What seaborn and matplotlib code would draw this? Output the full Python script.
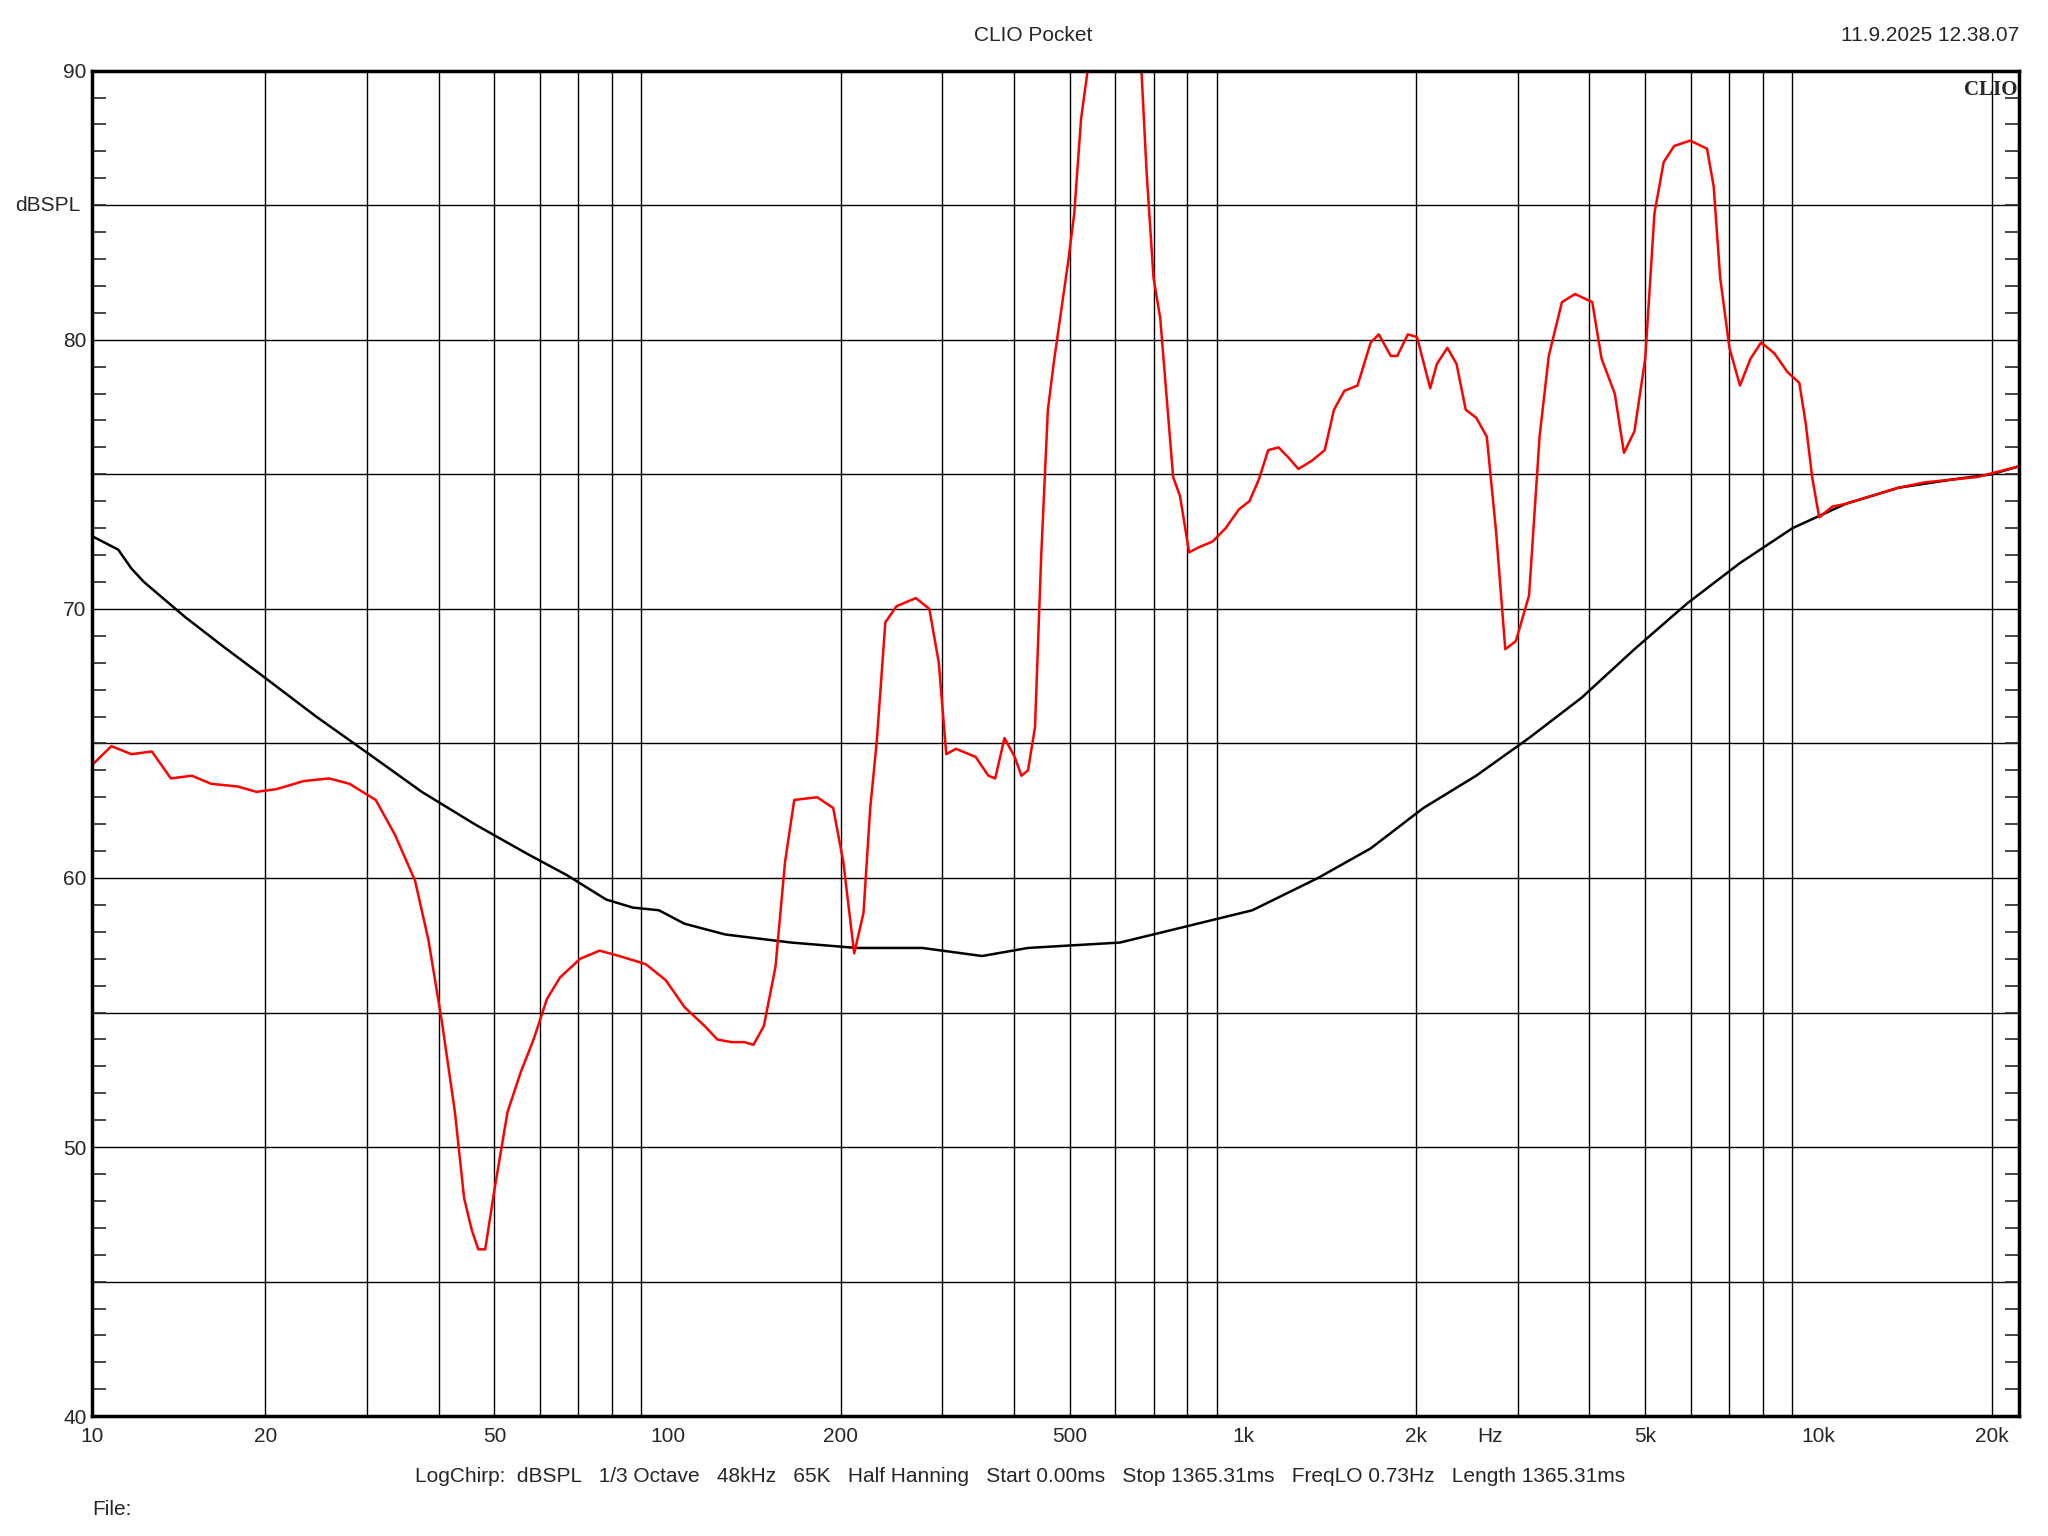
import numpy as np
import pandas as pd
import matplotlib
matplotlib.use("Agg")
import matplotlib.pyplot as plt
from matplotlib.ticker import FixedLocator, NullFormatter, MultipleLocator
import seaborn as sns

# red trace (measured response)
red_freq = [10, 10.8, 11.7, 12.7, 13.7, 14.9, 16.1, 17.9, 19.3, 20.9, 23.3, 25.8, 28.0, 31.1, 33.6,
            36.4, 38.4, 40.5, 42.7, 44.3, 45.7, 46.9, 48.2, 50.0, 52.7, 55.6, 58.5, 61.7, 65.0,
            70.5, 76.2, 82.4, 91.6, 99.3, 107, 116, 122, 129, 136, 141, 147, 154, 160, 166, 182,
            194, 202, 211, 219, 225, 231, 239, 250, 270, 285, 296, 305, 317, 343, 361, 371, 385,
            401, 412, 423, 435, 446, 458, 470, 496, 509, 523, 537, 596, 666, 680, 699, 718, 756,
            777, 806, 840, 885, 933, 984, 1026, 1065, 1106, 1153, 1202, 1248, 1316, 1387, 1439,
            1500, 1581, 1667, 1722, 1806, 1854, 1934, 2006, 2115, 2172, 2265, 2350, 2438, 2543,
            2652, 2752, 2856, 2979, 3141, 3276, 3399, 3583, 3776, 4045, 4198, 4426, 4592, 4789,
            5000, 5188, 5383, 5613, 5984, 6402, 6575, 6749, 7003, 7305, 7621, 7950, 8380, 8834,
            9262, 9502, 9750, 10030, 10570, 11140, 12390, 13770, 15290, 16990, 18880, 22340]
red_db = [64.2, 64.9, 64.6, 64.7, 63.7, 63.8, 63.5, 63.4, 63.2, 63.3, 63.6, 63.7, 63.5, 62.9, 61.6,
          59.9, 57.7, 54.7, 51.3, 48.1, 46.9, 46.2, 46.2, 48.4, 51.3, 52.8, 54.0, 55.5, 56.3,
          57.0, 57.3, 57.1, 56.8, 56.2, 55.2, 54.5, 54.0, 53.9, 53.9, 53.8, 54.5, 56.7, 60.6, 62.9, 63.0,
          62.6, 60.6, 57.2, 58.7, 62.6, 65.1, 69.5, 70.1, 70.4, 70.0, 68.0, 64.6, 64.8, 64.5, 63.8, 63.7, 65.2,
          64.5, 63.8, 64.0, 65.6, 72.0, 77.4, 79.3, 82.8, 84.7, 88.2, 90.0, 95.0, 90.0, 86.2, 82.3, 80.8, 74.9,
          74.2, 72.1, 72.3, 72.5, 73.0, 73.7, 74.0, 74.8, 75.9, 76.0, 75.6, 75.2, 75.5, 75.9, 77.4,
          78.1, 78.3, 79.9, 80.2, 79.4, 79.4, 80.2, 80.1, 78.2, 79.1, 79.7, 79.1, 77.4, 77.1,
          76.4, 72.9, 68.5, 68.8, 70.5, 76.4, 79.4, 81.4, 81.7, 81.4, 79.3, 78.0, 75.8, 76.6,
          79.3, 84.7, 86.6, 87.2, 87.4, 87.1, 85.7, 82.3, 79.7, 78.3, 79.3, 79.9, 79.5, 78.8,
          78.4, 76.9, 74.9, 73.4, 73.8, 73.9, 74.2, 74.5, 74.7, 74.8, 74.9, 75.3]

# black trace (reference)
black_freq = [10, 11.1, 11.7, 12.3, 14.5, 16.9, 19.8, 24.5, 30.3, 37.4, 46.2, 57.0, 66.9, 78.2,
              87.0, 96.6, 107, 126, 164, 213, 277, 352, 423, 611, 797, 1038, 1350, 1667, 2058,
              2542, 3140, 3877, 4788, 5912, 7302, 9016, 11140, 13770, 16990, 19980, 22340]
black_db = [72.7, 72.2, 71.5, 71.0, 69.7, 68.6, 67.5, 66.0, 64.6, 63.2, 62.0, 60.9, 60.1, 59.2,
            58.9, 58.8, 58.3, 57.9, 57.6, 57.4, 57.4, 57.1, 57.4, 57.6, 58.2, 58.8, 60.0, 61.1, 62.6,
            63.8, 65.2, 66.7, 68.5, 70.2, 71.7, 73.0, 73.9, 74.5, 74.8, 75.0, 75.3]

x_ticks = [10, 20, 50, 100, 200, 500, 1000, 2000, 5000, 10000, 20000]
x_labels = ["10", "20", "50", "100", "200", "500", "1k", "2k", "5k", "10k", "20k"]
y_ticks = [40, 50, 60, 70, 80, 90]

sns.set_style("white")
plt.rcParams['font.family'] = ['Liberation Sans', 'DejaVu Sans']

fig = plt.figure(figsize=(20.48, 15.36), dpi=100)
ax = fig.add_axes([0.045, 0.078, 0.941, 0.876])

red = pd.DataFrame({"f": red_freq, "db": red_db})
black = pd.DataFrame({"f": black_freq, "db": black_db})
sns.lineplot(data=black, x="f", y="db", color="black", linewidth=1.8, ax=ax)
sns.lineplot(data=red, x="f", y="db", color="#ff0000", linewidth=1.8, ax=ax)

ax.set_xscale("log")
ax.set_xlim(10, 22340)
ax.set_ylim(40, 90)

# grid lines at 2..9 x 10^n
grid_x = [m * 10 ** e for e in range(1, 5) for m in range(2, 10) if m * 10 ** e < 22340]
for gx in grid_x:
    ax.axvline(gx, color="black", linewidth=1.0, zorder=0)
for gy in range(45, 90, 5):
    ax.axhline(gy, color="black", linewidth=1.0, zorder=0)

ax.xaxis.set_major_locator(FixedLocator(x_ticks))
ax.xaxis.set_minor_locator(FixedLocator([]))
ax.set_xticklabels(x_labels)
ax.xaxis.set_minor_formatter(NullFormatter())
ax.set_yticks(y_ticks)
ax.yaxis.set_minor_locator(MultipleLocator(1))
ax.tick_params(axis="x", length=0, labelsize=15, pad=8)
ax.tick_params(axis="y", which="major", length=0, labelsize=15, pad=4)
ax.tick_params(axis="y", which="minor", length=10, width=1.2, direction="in", left=True, right=True)
ax.set_xlabel("")
ax.set_ylabel("")
for s in ax.spines.values():
    s.set_linewidth(2.5)
    s.set_color("black")

fig.text(0.5045, 0.977, "CLIO Pocket", ha="center", va="center", fontsize=15)
fig.text(0.986, 0.977, "11.9.2025 12.38.07", ha="right", va="center", fontsize=15)
ax.text(0.999, 0.993, "CLIO", transform=ax.transAxes, ha="right", va="top",
        fontsize=15, fontweight="bold", family=["Liberation Serif", "DejaVu Serif"])
ax.text(-0.006, 85, "dBSPL", transform=ax.get_yaxis_transform(), ha="right", va="center", fontsize=15)
ax.text(2690, -0.008, "Hz", transform=ax.get_xaxis_transform(), ha="center", va="top", fontsize=15)
fig.text(0.498, 0.039, "LogChirp:  dBSPL   1/3 Octave   48kHz   65K   Half Hanning   Start 0.00ms   "
         "Stop 1365.31ms   FreqLO 0.73Hz   Length 1365.31ms", ha="center", va="center", fontsize=15)
fig.text(0.045, 0.017, "File:", ha="left", va="center", fontsize=15)

fig.savefig("out.png", dpi=100, facecolor="white")
